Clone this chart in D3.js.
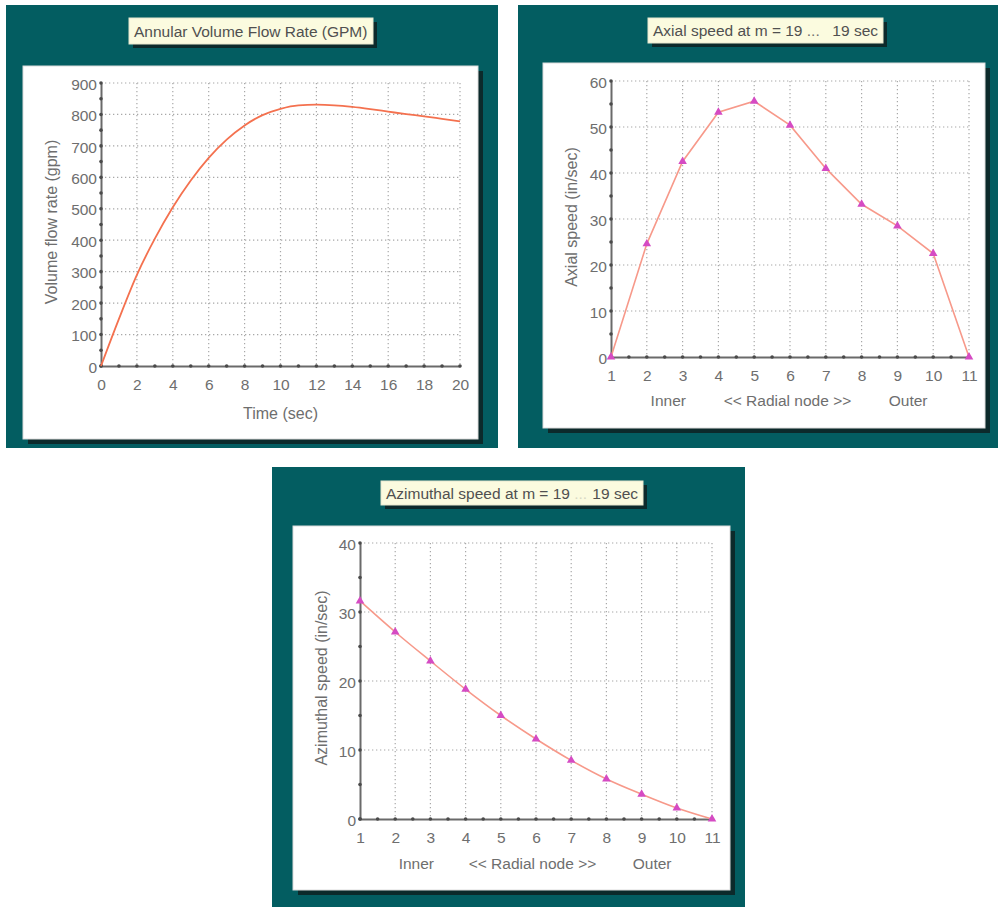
<!DOCTYPE html>
<html>
<head>
<meta charset="utf-8">
<script src="https://cdn.jsdelivr.net/npm/d3@7"></script>
<style>
  html, body { margin: 0; padding: 0; background: #ffffff; }
  svg { display: block; }
  text { font-family: "Liberation Sans", Arial, sans-serif; }
</style>
</head>
<body>
<svg id="chart" width="998" height="907"></svg>
<script>
// ---- Data -------------------------------------------------------------
// Annular volume flow rate over time
const flowTime = [0, 1, 2, 3, 4, 5, 6, 7, 8, 9, 10, 11, 12, 13, 14, 15, 16, 17, 18, 19, 20];
const flowRate = [0, 150, 290, 405, 505, 590, 662, 720, 765, 798, 818, 829, 831, 829, 824, 817, 809, 801, 794, 786, 778];

// Radial nodes (1 = inner wall, 11 = outer wall)
const radialNodes = [1, 2, 3, 4, 5, 6, 7, 8, 9, 10, 11];
const axialSpeed = [0, 24.6, 42.5, 53.2, 55.6, 50.4, 41.0, 33.2, 28.5, 22.5, 0];
const azimuthalSpeed = [31.6, 27.1, 22.9, 18.8, 15.0, 11.6, 8.5, 5.8, 3.6, 1.6, 0];

// Tick labels
const timeTicks = [0, 2, 4, 6, 8, 10, 12, 14, 16, 18, 20];
const flowTicks = [0, 100, 200, 300, 400, 500, 600, 700, 800, 900];
const nodeTicks = [1, 2, 3, 4, 5, 6, 7, 8, 9, 10, 11];
const axialTicks = [0, 10, 20, 30, 40, 50, 60];
const azimuthalTicks = [0, 10, 20, 30, 40];
const nodeCaptions = ["Inner", "<< Radial node >>", "Outer"];

// ---- Styling ----------------------------------------------------------
const TEAL = "#035d61";
const SHADOW = "#0c2a2b";
const TEXT = "#6e6e6e";
const AXIS = "#6a6a6a";
const GRID = "#a8a8a8";

const svg = d3.select("#chart");

function panel(cfg) {
  const g = svg.append("g");

  // frame
  g.append("rect").attr("x", cfg.frame[0]).attr("y", cfg.frame[1])
    .attr("width", cfg.frame[2] - cfg.frame[0]).attr("height", cfg.frame[3] - cfg.frame[1])
    .attr("fill", TEAL);

  // title box with drop shadow
  const tb = cfg.titleBox;
  const ty = (tb[1] + tb[3]) / 2 + 5.5;
  g.append("rect").attr("x", tb[0] + 4).attr("y", tb[1] + 4)
    .attr("width", tb[2] - tb[0]).attr("height", tb[3] - tb[1]).attr("fill", SHADOW);
  g.append("rect").attr("x", tb[0]).attr("y", tb[1])
    .attr("width", tb[2] - tb[0]).attr("height", tb[3] - tb[1])
    .attr("fill", "#fbfbdf").attr("stroke", "#e8e8cf").attr("stroke-width", 1);
  const t = g.append("text").attr("x", tb[0] + 5).attr("y", ty)
    .attr("font-size", 15.5).attr("fill", "#505050");
  t.append("tspan").text(cfg.title[0]);
  if (cfg.title[1]) t.append("tspan").attr("fill", cfg.ellipsisColor).text(" " + cfg.title[1]);
  if (cfg.title[2]) {
    g.append("text").attr("x", tb[2] - 5).attr("y", ty).attr("text-anchor", "end")
      .attr("font-size", 15.5).attr("fill", "#505050").text(cfg.title[2]);
  }

  // white plotting card with drop shadow
  const wb = cfg.card;
  g.append("rect").attr("x", wb[0] + 5).attr("y", wb[1] + 5)
    .attr("width", wb[2] - wb[0]).attr("height", wb[3] - wb[1]).attr("fill", SHADOW);
  g.append("rect").attr("x", wb[0]).attr("y", wb[1])
    .attr("width", wb[2] - wb[0]).attr("height", wb[3] - wb[1])
    .attr("fill", "#ffffff").attr("stroke", "#dcdcdc").attr("stroke-width", 1);

  const x = d3.scaleLinear().domain(cfg.xDomain).range([cfg.plot[0], cfg.plot[2]]);
  const y = d3.scaleLinear().domain(cfg.yDomain).range([cfg.plot[3], cfg.plot[1]]);

  // dotted grid
  const grid = g.append("g").attr("stroke", GRID).attr("stroke-width", 1.2)
    .attr("stroke-dasharray", "1.3,2.7");
  grid.selectAll(".gx").data(cfg.xTicks.slice(1)).join("line")
    .attr("x1", d => x(d)).attr("x2", d => x(d))
    .attr("y1", y.range()[1]).attr("y2", y.range()[0]);
  grid.selectAll(".gy").data(cfg.yTicks.slice(1)).join("line")
    .attr("y1", d => y(d)).attr("y2", d => y(d))
    .attr("x1", x.range()[0]).attr("x2", x.range()[1]);

  // axes (labels from d3 axes, axis lines drawn heavier)
  const xAxis = g.append("g").attr("transform", `translate(0,${cfg.plot[3]})`)
    .call(d3.axisBottom(x).tickValues(cfg.xTicks).tickSize(0).tickPadding(13));
  const yAxis = g.append("g").attr("transform", `translate(${cfg.plot[0]},0)`)
    .call(d3.axisLeft(y).tickValues(cfg.yTicks).tickSize(0).tickPadding(4));
  [xAxis, yAxis].forEach(a => {
    a.select(".domain").attr("stroke", AXIS).attr("stroke-width", 2);
    a.selectAll("text").attr("font-size", 15.5).attr("fill", TEXT)
      .attr("font-family", "'Liberation Sans', Arial, sans-serif");
  });
  yAxis.selectAll("text").attr("dy", "0.4em");

  // tick dots on the axis lines (major and minor)
  const xMinor = d3.range(cfg.xDomain[0], cfg.xDomain[1] + 1e-9, cfg.xMinor);
  const yMinor = d3.range(cfg.yDomain[0], cfg.yDomain[1] + 1e-9, cfg.yMinor);
  g.append("g").selectAll("circle").data(xMinor).join("circle")
    .attr("cx", d => x(d)).attr("cy", cfg.plot[3]).attr("r", 1.8)
    .attr("fill", "#4a4a4a");
  g.append("g").selectAll("circle").data(yMinor).join("circle")
    .attr("cx", cfg.plot[0]).attr("cy", d => y(d)).attr("r", 1.8)
    .attr("fill", "#4a4a4a");

  // axis titles
  g.append("text")
    .attr("transform", `translate(${cfg.yTitlePos[0]},${cfg.yTitlePos[1]}) rotate(-90)`)
    .attr("text-anchor", "middle").attr("font-size", 16).attr("fill", TEXT).text(cfg.yTitle);
  if (cfg.xTitle) {
    g.append("text").attr("x", (cfg.plot[0] + cfg.plot[2]) / 2).attr("y", cfg.xTitleY)
      .attr("text-anchor", "middle").attr("font-size", 16).attr("fill", TEXT).text(cfg.xTitle);
  }
  if (cfg.captions) {
    cfg.captions.forEach((c, i) => {
      g.append("text").attr("x", x(cfg.captionAt[i])).attr("y", cfg.xTitleY)
        .attr("text-anchor", "middle").attr("font-size", 15.5).attr("fill", TEXT).text(c);
    });
  }

  // series
  const pts = cfg.xs.map((d, i) => [d, cfg.ys[i]]);
  g.append("path").datum(pts)
    .attr("fill", "none").attr("stroke", cfg.lineColor).attr("stroke-width", cfg.lineWidth)
    .attr("d", d3.line().x(d => x(d[0])).y(d => y(d[1])).curve(cfg.curve));

  if (cfg.markers) {
    const tri = d3.symbol().type(d3.symbolTriangle).size(32);
    g.append("g").selectAll("path").data(pts).join("path")
      .attr("transform", d => `translate(${x(d[0])},${y(d[1])})`)
      .attr("d", tri).attr("fill", "#d54bc3");
  }
}

panel({
  frame: [6, 5, 498, 448],
  titleBox: [129, 18, 373, 44],
  title: ["Annular Volume Flow Rate (GPM)"],
  card: [23, 66, 478, 439],
  plot: [101, 83, 460, 366],
  xDomain: [0, 20], yDomain: [0, 900],
  xTicks: timeTicks, yTicks: flowTicks,
  xMinor: 1, yMinor: 50,
  yTitle: "Volume flow rate (gpm)", yTitlePos: [57, 222],
  xTitle: "Time (sec)", xTitleY: 419,
  xs: flowTime, ys: flowRate,
  lineColor: "#f4714f", lineWidth: 1.8, curve: d3.curveMonotoneX, markers: false
});

panel({
  frame: [518, 5, 998, 448],
  titleBox: [648, 18, 883, 43],
  title: ["Axial speed at m = 19", "...", "19 sec"], ellipsisColor: "#707070",
  card: [543, 63, 985, 428],
  plot: [611, 81, 969, 357],
  xDomain: [1, 11], yDomain: [0, 60],
  xTicks: nodeTicks, yTicks: axialTicks,
  xMinor: 0.5, yMinor: 5,
  yTitle: "Axial speed (in/sec)", yTitlePos: [577, 217],
  captions: nodeCaptions, captionAt: [2.6, 5.93, 9.3], xTitleY: 406,
  xs: radialNodes, ys: axialSpeed,
  lineColor: "#f7998a", lineWidth: 1.6, curve: d3.curveLinear, markers: true
});

panel({
  frame: [272, 467, 745, 907],
  titleBox: [381, 481, 643, 505],
  title: ["Azimuthal speed at m = 19", "...", "19 sec"], ellipsisColor: "#d8d8c4",
  card: [293, 526, 730, 890],
  plot: [360, 543, 712, 819],
  xDomain: [1, 11], yDomain: [0, 40],
  xTicks: nodeTicks, yTicks: azimuthalTicks,
  xMinor: 0.5, yMinor: 5,
  yTitle: "Azimuthal speed (in/sec)", yTitlePos: [327, 678],
  captions: nodeCaptions, captionAt: [2.6, 5.9, 9.3], xTitleY: 869,
  xs: radialNodes, ys: azimuthalSpeed,
  lineColor: "#f7998a", lineWidth: 1.6, curve: d3.curveMonotoneX, markers: true
});
</script>
</body>
</html>
